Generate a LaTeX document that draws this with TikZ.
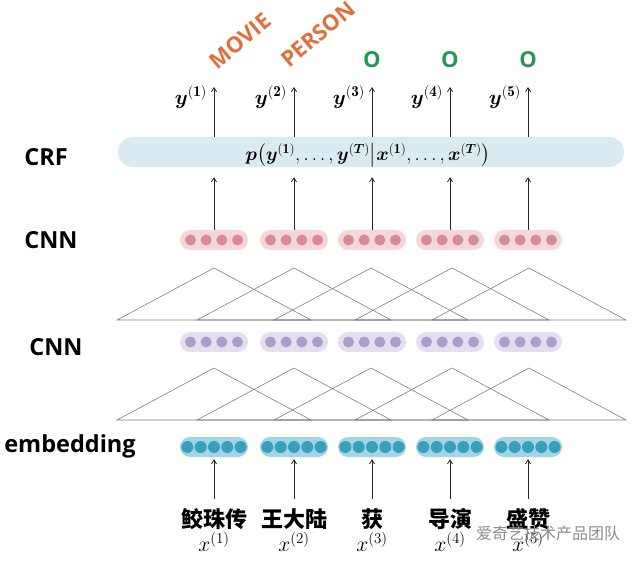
\documentclass[tikz,border=0pt]{standalone}
\usepackage{graphicx}
\usepackage{fontspec}
\usepackage{amsmath}
\usetikzlibrary{arrows.meta,calc}
\newfontfamily\labfont{Open Sans}
\newfontfamily\cjkfont{Noto Sans CJK SC}
\definecolor{crfbox}{RGB}{217,235,240}
\definecolor{redbox}{RGB}{245,215,217}
\definecolor{reddot}{RGB}{214,140,150}
\definecolor{purbox}{RGB}{227,223,239}
\definecolor{purdot}{RGB}{172,158,202}
\definecolor{embbox}{RGB}{162,213,229}
\definecolor{embdot}{RGB}{58,160,186}
\definecolor{tagorange}{RGB}{226,110,60}
\definecolor{taggreen}{RGB}{35,150,85}
\newcommand{\crfformula}{\scalebox{1.1}{$\boldsymbol{p}\bigl(\boldsymbol{y}^{(\mathbf{1})},\ldots,\boldsymbol{y}^{(\boldsymbol{T})}\big|\boldsymbol{x}^{(\mathbf{1})},\ldots,\boldsymbol{x}^{(\boldsymbol{T})}\bigr)$}}
\newcommand{\ylabtext}[1]{\scalebox{1.2}{$\boldsymbol{y}^{(\mathbf{#1})}$}}
\newcommand{\xlabtext}[1]{\scalebox{1.25}{$x^{(#1)}$}}
\begin{document}
\begin{tikzpicture}[x=1pt,y=-1pt,
  layerlab/.style={font=\labfont\bfseries\fontsize{23.5}{26}\selectfont, inner sep=0pt},
  vecbox/.style={rounded corners=10pt, minimum width=68pt, minimum height=20pt, inner sep=0pt},
  crfstyle/.style={rounded corners=15pt, fill=crfbox, minimum width=506pt, minimum height=30pt, inner sep=0pt},
  arr/.style={draw=black!85, line width=0.8pt, -{Straight Barb[length=4pt,width=5pt]}},
  tri/.style={draw=black!50, line width=0.6pt},
  tagtext/.style={font=\labfont\bfseries\fontsize{22}{24}\selectfont, inner sep=0pt},
  mathlab/.style={font=\fontsize{18}{20}\selectfont, inner sep=0pt},
  xlab/.style={font=\fontsize{18}{20}\selectfont, inner sep=0pt},
  word/.style={font=\cjkfont\bfseries\fontsize{22}{24}\selectfont, inner sep=0pt}
]
\useasboundingbox (0,0) rectangle (640,561);

% layer labels
\node[layerlab] (lcrf) at (46,157) {CRF};
\node[layerlab] (lcnn1) at (51,240) {CNN};
\node[layerlab] (lcnn2) at (56,347) {CNN};
\node[layerlab] (lemb) at (70,446) {embedding};

% CRF box
\node[crfstyle] (crf) at (371,152) {};
\node[mathlab] (crftext) at (368,155) {\crfformula};

% triangles
\foreach \cx in {214,294,371,452,529} {
  \draw[tri] (\cx-97,320) -- (\cx,268) -- (\cx+97,320) -- cycle;
  \draw[tri] (\cx-97,420) -- (\cx,368) -- (\cx+97,420) -- cycle;
}

\foreach \i/\cx/\w in {1/214/鲛珠传,2/294/王大陆,3/372/获,4/450/导演,5/528/盛赞} {
  \node[vecbox, fill=redbox] (r\i) at (\cx,240) {};
  \foreach \d in {-23.5,-7.8,7.8,23.5} \fill[reddot] ($(r\i.center)+(\d,0)$) circle (5.5pt);
  \node[vecbox, fill=purbox] (p\i) at (\cx,342) {};
  \foreach \d in {-23.5,-7.8,7.8,23.5} \fill[purdot] ($(p\i.center)+(\d,0)$) circle (5.5pt);
  \node[vecbox, fill=embbox] (e\i) at (\cx,447) {};
  \foreach \d in {-26.6,-13.3,0,13.3,26.6} \fill[embdot] ($(e\i.center)+(\d,0)$) circle (6pt);
  \node[word] (w\i) at (\cx,519) {\w};
  \node[xlab] (x\i) at (\cx,542) {\xlabtext{\i}};
  \draw[arr, shorten <=9pt, shorten >=2pt] (w\i.north) -- (e\i.south);
  \draw[arr, shorten >=10pt] (r\i.north) -- (r\i.north |- crf.south);
  \coordinate (t\i) at (\cx,87);
  \draw[arr] (crf.north -| t\i) -- (t\i);
  \node[mathlab] (y\i) at (\cx-23,97) {\ylabtext{\i}};
}

% tags
\node[tagtext, text=tagorange, rotate=40] (tag1) at (240,41) {MOVIE};
\node[tagtext, text=tagorange, rotate=40] (tag2) at (318,34) {PERSON};
\node[tagtext, text=taggreen] (tag3) at (372,60) {O};
\node[tagtext, text=taggreen] (tag4) at (450,60) {O};
\node[tagtext, text=taggreen] (tag5) at (528,60) {O};

% watermark
\node[font=\cjkfont\fontsize{16}{18}\selectfont, text=black!45, inner sep=0pt] (wm) at (548,533) {爱奇艺技术产品团队};
\end{tikzpicture}
\end{document}
